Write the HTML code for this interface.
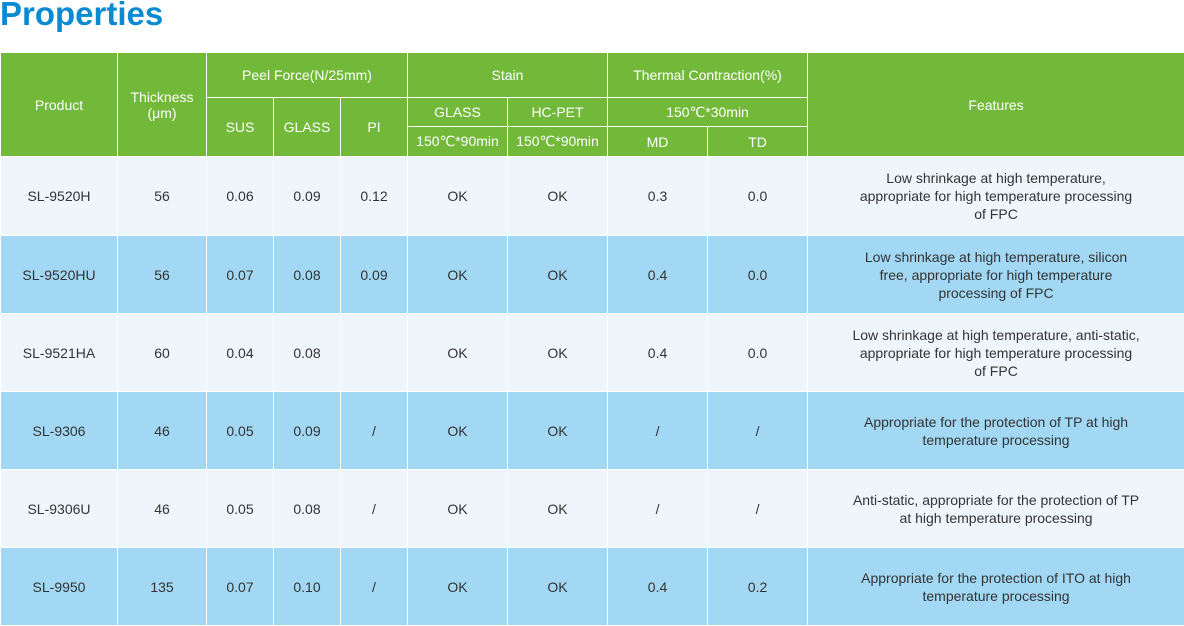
<!DOCTYPE html>
<html><head><meta charset="utf-8"><style>
body{margin:0;width:1184px;height:626px;background:#fff;font-family:"Liberation Sans","DejaVu Sans",sans-serif;overflow:hidden;position:relative}
h1{position:absolute;left:0;top:-5px;margin:0;font-size:33px;font-weight:bold;color:#0a8ad0}
table{position:absolute;left:0;top:52px;width:1184px;border-collapse:collapse;table-layout:fixed}
td,th{border:1px solid #fff;text-align:center;vertical-align:middle;padding:0;font-size:14px;font-weight:normal}
th{background:#72b93a;color:#fff}
td{color:#333}
tr.l td{background:#eef6fb}
tr.b td{background:#a2d8f3}
tr.l,tr.b{height:78px}
td.f{font-size:14px;line-height:18px;padding:0 44px}
</style></head><body>
<h1>Properties</h1>
<table>
<colgroup><col style="width:117px"><col style="width:89px"><col style="width:67px"><col style="width:67px"><col style="width:67px"><col style="width:100px"><col style="width:100px"><col style="width:100px"><col style="width:100px"><col style="width:377px"></colgroup>
<tr style="height:45px"><th rowspan="3">Product</th><th rowspan="3">Thickness<br>(μm)</th><th colspan="3">Peel Force(N/25mm)</th><th colspan="2">Stain</th><th colspan="2">Thermal Contraction(%)</th><th rowspan="3">Features</th></tr>
<tr style="height:29px"><th rowspan="2">SUS</th><th rowspan="2">GLASS</th><th rowspan="2">PI</th><th>GLASS</th><th>HC-PET</th><th colspan="2">150℃*30min</th></tr>
<tr style="height:30px"><th>150℃*90min</th><th>150℃*90min</th><th>MD</th><th>TD</th></tr>
<tr class="l" style="height:79px"><td>SL-9520H</td><td>56</td><td>0.06</td><td>0.09</td><td>0.12</td><td>OK</td><td>OK</td><td>0.3</td><td>0.0</td><td class="f">Low shrinkage at high temperature,<br>appropriate for high temperature processing<br>of FPC</td></tr>
<tr class="b"><td>SL-9520HU</td><td>56</td><td>0.07</td><td>0.08</td><td>0.09</td><td>OK</td><td>OK</td><td>0.4</td><td>0.0</td><td class="f">Low shrinkage at high temperature, silicon<br>free, appropriate for high temperature<br>processing of FPC</td></tr>
<tr class="l"><td>SL-9521HA</td><td>60</td><td>0.04</td><td>0.08</td><td></td><td>OK</td><td>OK</td><td>0.4</td><td>0.0</td><td class="f">Low shrinkage at high temperature, anti-static,<br>appropriate for high temperature processing<br>of FPC</td></tr>
<tr class="b"><td>SL-9306</td><td>46</td><td>0.05</td><td>0.09</td><td>/</td><td>OK</td><td>OK</td><td>/</td><td>/</td><td class="f">Appropriate for the protection of TP at high<br>temperature processing</td></tr>
<tr class="l"><td>SL-9306U</td><td>46</td><td>0.05</td><td>0.08</td><td>/</td><td>OK</td><td>OK</td><td>/</td><td>/</td><td class="f">Anti-static, appropriate for the protection of TP<br>at high temperature processing</td></tr>
<tr class="b"><td>SL-9950</td><td>135</td><td>0.07</td><td>0.10</td><td>/</td><td>OK</td><td>OK</td><td>0.4</td><td>0.2</td><td class="f">Appropriate for the protection of ITO at high<br>temperature processing</td></tr>
</table>
</body></html>
